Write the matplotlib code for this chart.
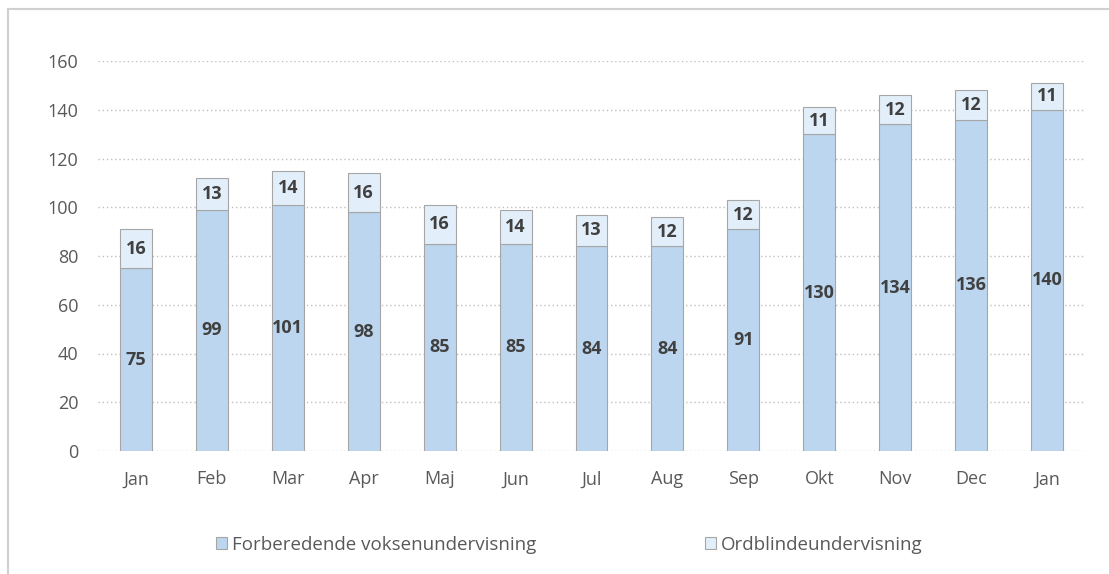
import numpy as np
import matplotlib.pyplot as plt
from matplotlib.lines import Line2D

months = ['Jan', 'Feb', 'Mar', 'Apr', 'Maj', 'Jun', 'Jul', 'Aug', 'Sep', 'Okt', 'Nov', 'Dec', 'Jan']
fvu = [75, 99, 101, 98, 85, 85, 84, 84, 91, 130, 134, 136, 140]
ordblinde = [16, 13, 14, 16, 16, 14, 13, 12, 12, 11, 12, 12, 11]

plt.rcParams['font.family'] = ['Open Sans', 'DejaVu Sans']

fig = plt.figure(figsize=(11.09, 5.74), dpi=100)
ax = fig.add_axes([98 / 1109, 1 - 451 / 574, (1085 - 98) / 1109, 390 / 574])

x = np.arange(len(months))
w = 0.42
c1 = '#bcd6ef'
c2 = '#e2eef9'
ax.bar(x, fvu, w, color=c1, edgecolor='#a6a6a6', linewidth=0.8, zorder=3,
       label='Forberedende voksenundervisning')
ax.bar(x, ordblinde, w, bottom=fvu, color=c2, edgecolor='#a6a6a6', linewidth=0.8, zorder=3,
       label='Ordblindeundervisning')

for i in range(len(months)):
    ax.text(x[i], fvu[i] / 2, str(fvu[i]), ha='center', va='center', fontsize=13,
            fontweight='bold', color='#404040', zorder=4)
    ax.text(x[i], fvu[i] + ordblinde[i] / 2, str(ordblinde[i]), ha='center', va='center',
            fontsize=13, fontweight='bold', color='#404040', zorder=4)

ax.set_xlim(-0.5, len(months) - 0.5)
ax.set_ylim(0, 160)
ax.set_yticks(range(0, 161, 20))
ax.set_xticks(x)
ax.set_xticklabels(months)
ax.yaxis.grid(True, color='#bfbfbf', linestyle=(0, (1, 2)), linewidth=1, zorder=0)
for s in ax.spines.values():
    s.set_visible(False)
ax.tick_params(length=0, labelsize=13, colors='#595959')
ax.tick_params(axis='x', pad=14)
ax.tick_params(axis='y', pad=14)

handles, labels = ax.get_legend_handles_labels()
leg = fig.legend(handles, labels, loc='center', bbox_to_anchor=(0.513, 1 - 545 / 574), ncol=2,
                 frameon=False, fontsize=13.5, handlelength=0.6, handleheight=0.6,
                 handletextpad=0.25, columnspacing=9)
for t in leg.get_texts():
    t.set_color('#595959')

# outer chart border (top and left visible)
fig.add_artist(Line2D([8 / 1109, 1], [1 - 9 / 574, 1 - 9 / 574], color='#d0d0d0', linewidth=1.5))
fig.add_artist(Line2D([8 / 1109, 8 / 1109], [0, 1 - 9 / 574], color='#d0d0d0', linewidth=1.5))

fig.savefig('out.png', dpi=100)
